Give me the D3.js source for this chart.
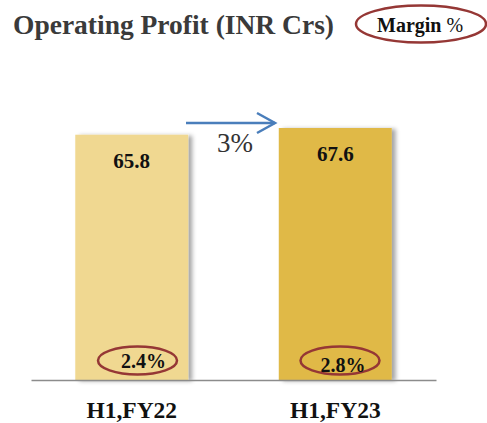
<!DOCTYPE html>
<html><head><meta charset="utf-8">
<script src="https://cdn.jsdelivr.net/npm/d3@7/dist/d3.min.js"></script>
<style>html,body{margin:0;padding:0;background:#fff}svg{display:block}</style>
</head><body>
<svg id="c" width="487" height="423"></svg>
<script>
const categories = ["H1,FY22", "H1,FY23"];
const profitValues = [65.8, 67.6];
const marginValues = ["2.4%", "2.8%"];
const growthLabel = "3%";
const barColors = ["#F0D891", "#E0B946"];

const svg = d3.select("#c");
const font = "'Liberation Serif', 'Times New Roman', serif";

const defs = svg.append("defs");
const f = defs.append("filter").attr("id", "sh").attr("x", "-10%").attr("y", "-10%").attr("width", "130%").attr("height", "120%");
f.append("feDropShadow").attr("dx", 4).attr("dy", 1).attr("stdDeviation", 2).attr("flood-color", "#000").attr("flood-opacity", 0.35);

const x = d3.scaleBand().domain(categories).range([31, 436]).paddingInner(0.445).paddingOuter(0.2175);
const y = d3.scaleLinear().domain([0, 67.6]).range([380, 128]);

// Title
svg.append("text").attr("x", 13).attr("y", 34).attr("font-family", font).attr("font-weight", "bold")
  .attr("font-size", 27.5).attr("fill", "#3a3a3a").text("Operating Profit (INR Crs)");
svg.append("ellipse").attr("cx", 421).attr("cy", 24).attr("rx", 65).attr("ry", 18.5)
  .attr("fill", "none").attr("stroke", "#953735").attr("stroke-width", 2.5);
const mt = svg.append("text").attr("x", 377).attr("y", 32).attr("font-family", font).attr("font-size", 20).attr("fill", "#111");
mt.append("tspan").attr("font-weight", "bold").text("Margin ");
mt.append("tspan").text("%");

// Bars
const g = svg.append("g");
g.selectAll("rect").data(categories).join("rect")
  .attr("x", d => x(d)).attr("width", x.bandwidth())
  .attr("y", (d, i) => y(profitValues[i])).attr("height", (d, i) => y(0) - y(profitValues[i]))
  .attr("fill", (d, i) => barColors[i]).attr("filter", "url(#sh)");

// Value labels
g.selectAll("text.v").data(categories).join("text").attr("class", "v")
  .attr("x", d => x(d) + x.bandwidth() / 2).attr("y", (d, i) => y(profitValues[i]) + 33)
  .attr("text-anchor", "middle").attr("font-family", font).attr("font-weight", "bold")
  .attr("font-size", 21).attr("fill", "#111").text((d, i) => profitValues[i]);

// Margin ellipses
const ecx = [137.5 - (x(categories[0]) + x.bandwidth() / 2), 340 - (x(categories[1]) + x.bandwidth() / 2)];
g.selectAll("ellipse.m").data(categories).join("ellipse").attr("class", "m")
  .attr("cx", (d, i) => x(d) + x.bandwidth() / 2 + ecx[i]).attr("cy", 360.5)
  .attr("rx", 39.5).attr("ry", 14).attr("fill", "none").attr("stroke", "#953735").attr("stroke-width", 2.5);
const mtx = [143.5, 343];
g.selectAll("text.m").data(categories).join("text").attr("class", "m")
  .attr("x", (d, i) => mtx[i]).attr("y", (d, i) => i === 0 ? 368 : 372)
  .attr("text-anchor", "middle").attr("font-family", font).attr("font-weight", "bold")
  .attr("font-size", 20).attr("fill", "#111").text((d, i) => marginValues[i]);

// Growth arrow
const ay = 123;
svg.append("line").attr("x1", 186).attr("x2", 275).attr("y1", ay).attr("y2", ay)
  .attr("stroke", "#4A7EBB").attr("stroke-width", 2.5);
svg.append("path").attr("d", `M257,${ay - 10} L275,${ay} L257,${ay + 10}`)
  .attr("fill", "none").attr("stroke", "#4A7EBB").attr("stroke-width", 2.5);
svg.append("text").attr("x", 235).attr("y", 152).attr("text-anchor", "middle")
  .attr("font-family", font).attr("font-size", 27).attr("fill", "#333").text(growthLabel);

// Axis
const ax = svg.append("g").attr("transform", "translate(0,380)")
  .call(d3.axisBottom(x).tickSize(0).tickSizeOuter(0));
ax.select(".domain").attr("stroke", "#8c8c8c").attr("stroke-width", 1.5);
ax.selectAll(".tick text").attr("y", 38).attr("dy", 0).attr("font-family", font)
  .attr("font-weight", "bold").attr("font-size", 23.5).attr("fill", "#111");
</script>
</body></html>
